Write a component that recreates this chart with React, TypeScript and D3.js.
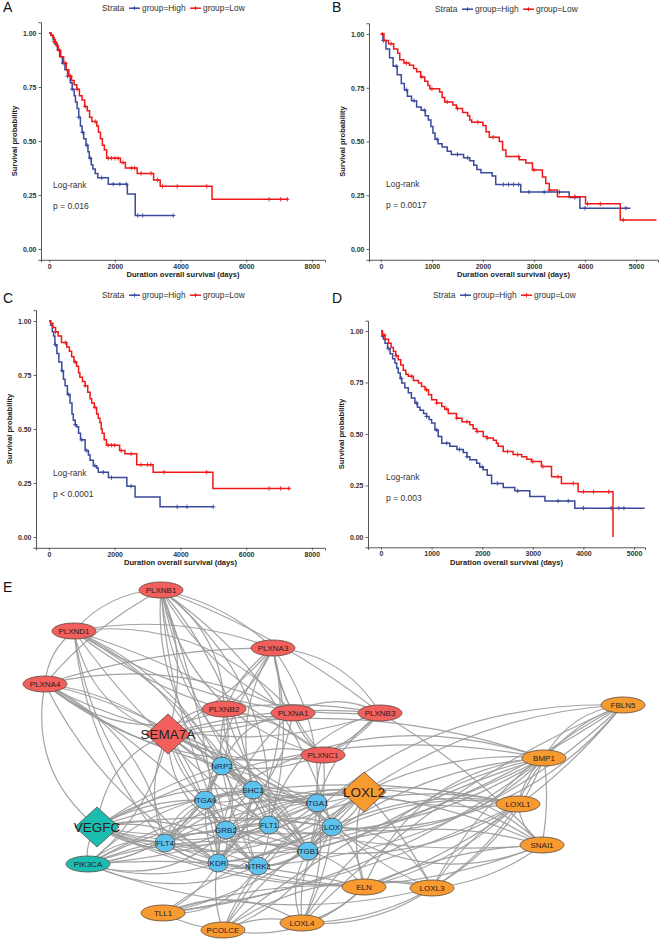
import React, { useEffect, useRef } from 'react';
import * as d3 from 'd3';

type Pt = [number, number];

// ---------- survival curves (time in days, survival probability) ----------
const aHigh: Pt[] = [[0,1],[60,0.99],[120,0.97],[180,0.95],[250,0.92],[320,0.89],[400,0.86],[480,0.83],[560,0.80],[640,0.77],[700,0.74],[760,0.71],[800,0.68],[850,0.65],[900,0.61],[950,0.57],[1000,0.54],[1050,0.51],[1120,0.48],[1180,0.45],[1220,0.42],[1280,0.39],[1330,0.37],[1400,0.35],[1480,0.33],[1800,0.30],[2380,0.255],[2620,0.155],[3780,0.155]];
const aLow: Pt[] = [[0,1],[50,0.99],[100,0.98],[150,0.96],[220,0.94],[280,0.92],[350,0.89],[440,0.86],[520,0.83],[600,0.80],[680,0.78],[760,0.76],[840,0.74],[920,0.71],[1000,0.69],[1080,0.66],[1160,0.64],[1230,0.61],[1300,0.59],[1450,0.57],[1500,0.54],[1560,0.51],[1620,0.48],[1680,0.46],[1750,0.42],[2170,0.40],[2320,0.375],[2680,0.35],[3180,0.32],[3380,0.29],[4960,0.23],[7280,0.23]];
const aHighCens = [200, 420, 560, 700, 900, 1020, 1150, 1250, 1600, 1950, 2150, 2350, 2700, 2850, 3780];
const aLowCens = [150, 300, 500, 650, 850, 1100, 1400, 1800, 1900, 2000, 2100, 2250, 2500, 2600, 2800, 3100, 3300, 3450, 3900, 4800, 6700, 7050, 7250];

const bHigh: Pt[] = [[0,1],[40,0.97],[100,0.93],[170,0.89],[240,0.85],[320,0.81],[400,0.77],[460,0.74],[520,0.71],[600,0.69],[700,0.66],[790,0.645],[870,0.62],[930,0.60],[980,0.57],[1020,0.54],[1060,0.51],[1120,0.49],[1200,0.475],[1300,0.455],[1380,0.44],[1620,0.425],[1740,0.41],[1820,0.39],[1880,0.37],[1960,0.355],[2180,0.34],[2250,0.30],[2740,0.265],[3690,0.24],[3900,0.19],[4890,0.19]];
const bLow: Pt[] = [[0,1],[60,0.97],[150,0.955],[250,0.93],[330,0.91],[370,0.88],[450,0.865],[560,0.855],[640,0.84],[700,0.825],[780,0.80],[860,0.78],[920,0.76],[960,0.745],[1150,0.73],[1200,0.705],[1250,0.684],[1410,0.67],[1480,0.653],[1600,0.635],[1700,0.62],[1740,0.60],[1780,0.59],[2000,0.575],[2060,0.545],[2125,0.52],[2320,0.50],[2385,0.46],[2450,0.43],[2710,0.415],[2840,0.40],[2970,0.367],[3165,0.335],[3230,0.305],[3300,0.274],[3460,0.243],[4010,0.21],[4690,0.135],[5400,0.135]];
const bHighCens = [50, 300, 500, 650, 850, 1100, 1500, 1700, 2400, 2500, 2600, 2700, 2900, 3200, 3500, 3800, 4000, 4800];
const bLowCens = [30, 200, 500, 800, 1000, 1300, 1500, 1900, 2200, 2700, 3000, 3300, 3800, 4050, 4300, 4750];

const cHigh: Pt[] = [[0,1],[50,0.98],[100,0.95],[140,0.93],[180,0.89],[240,0.85],[300,0.81],[390,0.77],[440,0.73],[490,0.70],[560,0.66],[640,0.62],[700,0.57],[740,0.54],[800,0.52],[840,0.51],[900,0.48],[960,0.45],[1100,0.40],[1200,0.38],[1250,0.355],[1350,0.33],[1450,0.32],[1500,0.30],[1810,0.275],[2370,0.235],[2620,0.185],[3380,0.14],[5000,0.14]];
const cLow: Pt[] = [[0,1],[50,0.99],[120,0.97],[200,0.95],[280,0.93],[380,0.90],[540,0.88],[620,0.86],[690,0.835],[760,0.81],[840,0.79],[900,0.76],[940,0.74],[1020,0.72],[1100,0.70],[1180,0.67],[1250,0.64],[1300,0.62],[1380,0.60],[1450,0.57],[1500,0.55],[1550,0.53],[1590,0.50],[1620,0.48],[1680,0.45],[1750,0.425],[2150,0.40],[2310,0.385],[2670,0.335],[3170,0.30],[4990,0.225],[7330,0.225]];
const cHighCens = [200, 400, 600, 800, 1000, 1150, 1400, 1650, 1900, 2500, 3900, 4200, 5000];
const cLowCens = [200, 500, 800, 1100, 1400, 1800, 1900, 2000, 2200, 2500, 2800, 3000, 3100, 3500, 4800, 6700, 7050, 7300];

const dHigh: Pt[] = [[0,1],[20,0.975],[50,0.96],[80,0.94],[130,0.915],[180,0.89],[230,0.865],[275,0.845],[310,0.82],[340,0.796],[380,0.77],[410,0.747],[470,0.725],[540,0.70],[600,0.675],[670,0.65],[720,0.63],[770,0.615],[840,0.60],[900,0.585],[950,0.57],[1000,0.553],[1065,0.52],[1130,0.488],[1200,0.455],[1360,0.44],[1500,0.425],[1625,0.41],[1700,0.39],[1755,0.375],[1890,0.358],[1950,0.34],[2020,0.326],[2100,0.30],[2185,0.26],[2415,0.24],[2645,0.224],[2940,0.196],[3240,0.175],[3830,0.14],[5210,0.14]];
const dLow: Pt[] = [[0,1],[30,0.98],[80,0.96],[150,0.94],[200,0.92],[245,0.90],[290,0.88],[340,0.86],[390,0.835],[440,0.81],[490,0.79],[540,0.78],[640,0.76],[740,0.747],[800,0.73],[870,0.715],[940,0.69],[1000,0.666],[1100,0.65],[1200,0.634],[1260,0.62],[1330,0.60],[1490,0.577],[1600,0.56],[1755,0.545],[1820,0.525],[1890,0.512],[2020,0.488],[2100,0.48],[2220,0.47],[2280,0.455],[2315,0.44],[2415,0.415],[2610,0.40],[2780,0.39],[2880,0.378],[2975,0.366],[3170,0.342],[3370,0.293],[3565,0.26],[3895,0.22],[4585,0]];
const dHighCens = [40, 150, 400, 700, 900, 1100, 1300, 1550, 1700, 2000, 2300, 2700, 3500, 3700, 4000, 4550, 4700, 4800];
const dLowCens = [60, 300, 600, 900, 1100, 1300, 1500, 1700, 1900, 2100, 2500, 2700, 3000, 3200, 3500, 3800, 4000, 4200, 4500];

const longTicks = [0, 2000, 4000, 6000, 8000];
const shortTicks = [0, 1000, 2000, 3000, 4000, 5000];
const probTicks = [0, 0.25, 0.5, 0.75, 1];
const pLabels = ['p = 0.016', 'p = 0.0017', 'p < 0.0001', 'p = 0.003'];
const groupLabels = ['group=High', 'group=Low'];

// ---------- network ----------
const nodeNames = ['PLXNB1','PLXND1','PLXNA3','PLXNA4','PLXNB2','PLXNA1','PLXNB3','PLXNC1','SEMA7A',
  'FBLN5','BMP1','LOXL2','LOXL1','SNAI1','ELN','LOXL3','TLL1','PCOLCE','LOXL4',
  'NRP2','SHC1','ITGA9','ITGA1','GRB2','FLT1','LOX','FLT4','ITGB1','KDR','NTRK1',
  'VEGFC','PIK3CA'];
const nodeGroups = ['plx','plx','plx','plx','plx','plx','plx','plx','plxHub',
  'ecm','ecm','ecmHub','ecm','ecm','ecm','ecm','ecm','ecm','ecm',
  'rec','rec','rec','rec','rec','rec','rec','rec','rec','rec','rec',
  'vegHub','veg'];
// layout position of each node inside the network area
const nodeX = [161, 74, 273, 45, 224, 293, 380, 323, 168, 623, 544, 364, 518, 542, 364, 432, 163, 223, 302, 222, 253, 205, 317, 226, 269, 332, 165, 308, 218, 258, 97, 88];
const nodeY = [15, 56, 73, 109, 134, 138, 138, 180, 159, 130, 183, 217, 229, 270, 312, 313, 338, 355, 348, 191, 215, 225, 228, 255, 250, 252, 268, 276, 288, 291, 252, 289];

const edges: [string, string][] = [
  ['PLXNB1','PLXND1'],['PLXNB1','PLXNA3'],['PLXNB1','PLXNA4'],['PLXNB1','PLXNB2'],['PLXNB1','PLXNA1'],['PLXNB1','PLXNB3'],['PLXNB1','PLXNC1'],['PLXNB1','SEMA7A'],['PLXNB1','NRP2'],['PLXNB1','SHC1'],['PLXNB1','GRB2'],['PLXNB1','FLT1'],['PLXNB1','ITGB1'],['PLXNB1','KDR'],['PLXNB1','ITGA1'],['PLXNB1','LOX'],
  ['PLXND1','PLXNA4'],['PLXND1','PLXNA3'],['PLXND1','PLXNB2'],['PLXND1','PLXNA1'],['PLXND1','PLXNB3'],['PLXND1','PLXNC1'],['PLXND1','SEMA7A'],['PLXND1','NRP2'],['PLXND1','KDR'],['PLXND1','FLT1'],['PLXND1','ITGB1'],['PLXND1','GRB2'],['PLXND1','FLT4'],
  ['PLXNA4','PLXNA3'],['PLXNA4','PLXNB2'],['PLXNA4','PLXNA1'],['PLXNA4','PLXNB3'],['PLXNA4','SEMA7A'],['PLXNA4','NRP2'],['PLXNA4','FLT4'],['PLXNA4','KDR'],['PLXNA4','GRB2'],['PLXNA4','VEGFC'],['PLXNA4','ITGB1'],['PLXNA4','PLXNC1'],
  ['PLXNA3','PLXNB2'],['PLXNA3','PLXNA1'],['PLXNA3','PLXNB3'],['PLXNA3','PLXNC1'],['PLXNA3','SEMA7A'],['PLXNA3','NRP2'],['PLXNA3','ITGA1'],['PLXNA3','SHC1'],['PLXNA3','FLT1'],['PLXNA3','ITGA9'],['PLXNA3','KDR'],
  ['PLXNB2','PLXNA1'],['PLXNB2','PLXNB3'],['PLXNB2','SEMA7A'],['PLXNB2','NRP2'],['PLXNB2','SHC1'],['PLXNB2','PLXNC1'],['PLXNB2','ITGB1'],
  ['PLXNA1','PLXNB3'],['PLXNA1','PLXNC1'],['PLXNA1','SEMA7A'],['PLXNA1','NRP2'],['PLXNA1','GRB2'],['PLXNA1','KDR'],
  ['PLXNB3','PLXNC1'],['PLXNB3','SEMA7A'],['PLXNB3','NRP2'],['PLXNB3','ITGA1'],['PLXNB3','SNAI1'],['PLXNB3','FLT1'],
  ['PLXNC1','SEMA7A'],['PLXNC1','NRP2'],['PLXNC1','ITGB1'],['PLXNC1','ITGA1'],
  ['SEMA7A','NRP2'],['SEMA7A','ITGA9'],['SEMA7A','SHC1'],['SEMA7A','GRB2'],['SEMA7A','FLT1'],['SEMA7A','FLT4'],['SEMA7A','KDR'],['SEMA7A','NTRK1'],['SEMA7A','ITGB1'],['SEMA7A','ITGA1'],['SEMA7A','LOX'],['SEMA7A','VEGFC'],['SEMA7A','PIK3CA'],['SEMA7A','LOXL2'],['SEMA7A','BMP1'],
  ['VEGFC','FLT4'],['VEGFC','KDR'],['VEGFC','FLT1'],['VEGFC','NRP2'],['VEGFC','GRB2'],['VEGFC','SHC1'],['VEGFC','PIK3CA'],['VEGFC','ITGA9'],['VEGFC','ITGB1'],['VEGFC','NTRK1'],['VEGFC','ITGA1'],['VEGFC','LOX'],['VEGFC','LOXL2'],['VEGFC','BMP1'],['VEGFC','SNAI1'],['VEGFC','LOXL1'],['VEGFC','ELN'],
  ['PIK3CA','FLT4'],['PIK3CA','KDR'],['PIK3CA','FLT1'],['PIK3CA','GRB2'],['PIK3CA','SHC1'],['PIK3CA','NTRK1'],['PIK3CA','ITGB1'],['PIK3CA','ITGA1'],['PIK3CA','SNAI1'],['PIK3CA','LOXL3'],['PIK3CA','ELN'],['PIK3CA','NRP2'],['PIK3CA','LOX'],['PIK3CA','ITGA9'],
  ['NRP2','SHC1'],['NRP2','ITGA9'],['NRP2','GRB2'],['NRP2','FLT1'],['NRP2','FLT4'],['NRP2','KDR'],['NRP2','ITGB1'],['NRP2','ITGA1'],['NRP2','LOX'],['NRP2','NTRK1'],
  ['SHC1','ITGA9'],['SHC1','GRB2'],['SHC1','FLT1'],['SHC1','FLT4'],['SHC1','KDR'],['SHC1','NTRK1'],['SHC1','ITGB1'],['SHC1','ITGA1'],['SHC1','LOX'],
  ['ITGA9','GRB2'],['ITGA9','FLT1'],['ITGA9','FLT4'],['ITGA9','KDR'],['ITGA9','ITGB1'],['ITGA9','ITGA1'],['ITGA9','NTRK1'],
  ['ITGA1','GRB2'],['ITGA1','FLT1'],['ITGA1','ITGB1'],['ITGA1','KDR'],['ITGA1','LOX'],['ITGA1','FLT4'],
  ['GRB2','FLT1'],['GRB2','FLT4'],['GRB2','KDR'],['GRB2','NTRK1'],['GRB2','ITGB1'],['GRB2','LOX'],
  ['FLT1','FLT4'],['FLT1','KDR'],['FLT1','NTRK1'],['FLT1','ITGB1'],['FLT1','LOX'],
  ['FLT4','KDR'],['FLT4','NTRK1'],['FLT4','ITGB1'],['KDR','NTRK1'],['KDR','ITGB1'],['NTRK1','ITGB1'],['LOX','ITGB1'],
  ['LOXL2','LOX'],['LOXL2','ITGB1'],['LOXL2','ITGA1'],['LOXL2','FLT1'],['LOXL2','KDR'],['LOXL2','GRB2'],['LOXL2','BMP1'],['LOXL2','LOXL1'],['LOXL2','SNAI1'],['LOXL2','ELN'],['LOXL2','LOXL3'],['LOXL2','LOXL4'],['LOXL2','TLL1'],['LOXL2','PCOLCE'],['LOXL2','FBLN5'],['LOXL2','FLT4'],
  ['BMP1','FBLN5'],['BMP1','LOXL1'],['BMP1','SNAI1'],['BMP1','ELN'],['BMP1','LOXL3'],['BMP1','LOXL4'],['BMP1','TLL1'],['BMP1','PCOLCE'],['BMP1','LOX'],['BMP1','ITGB1'],['BMP1','KDR'],['BMP1','FLT4'],['BMP1','GRB2'],
  ['FBLN5','LOXL1'],['FBLN5','ELN'],['FBLN5','LOXL4'],['FBLN5','LOX'],['FBLN5','LOXL3'],['FBLN5','ITGB1'],['FBLN5','PCOLCE'],['FBLN5','NTRK1'],
  ['LOXL1','SNAI1'],['LOXL1','ELN'],['LOXL1','LOXL3'],['LOXL1','LOXL4'],['LOXL1','LOX'],['LOXL1','TLL1'],['LOXL1','PCOLCE'],['LOXL1','ITGB1'],['LOXL1','KDR'],
  ['SNAI1','LOXL3'],['SNAI1','ELN'],['SNAI1','LOX'],['SNAI1','ITGB1'],['SNAI1','FLT1'],['SNAI1','GRB2'],
  ['ELN','LOXL3'],['ELN','LOX'],['ELN','LOXL4'],['ELN','TLL1'],['ELN','PCOLCE'],['ELN','ITGB1'],['ELN','FLT4'],
  ['LOXL3','LOX'],['LOXL3','LOXL4'],['LOXL3','PCOLCE'],['LOXL3','ITGA1'],
  ['TLL1','PCOLCE'],['TLL1','LOXL4'],['TLL1','KDR'],['TLL1','LOX'],['TLL1','NTRK1'],
  ['PCOLCE','LOXL4'],['PCOLCE','LOX'],['PCOLCE','KDR'],['LOXL4','LOX'],['LOXL4','ITGB1'],['LOXL4','ITGA1'],
];

const FONT = '"Liberation Sans", Arial, Helvetica, sans-serif';
const HIGH = '#3A4A9C';
const LOW = '#F01818';

const panels = [
  { letter: 'A', high: aHigh, low: aLow, hc: aHighCens, lc: aLowCens, ticks: longTicks, xd: [-250, 8400], xr: [41, 325], y0: 249, y1: 33, p: pLabels[0], lx: 53, ly: 188, legX: 102, legY: 11, lettX: 3, lettY: 12, titleY: 277 },
  { letter: 'B', high: bHigh, low: bLow, hc: bHighCens, lc: bLowCens, ticks: shortTicks, xd: [-233, 5430], xr: [369, 658], y0: 249, y1: 34, p: pLabels[1], lx: 386, ly: 187, legX: 435, legY: 12, lettX: 332, lettY: 12, titleY: 277 },
  { letter: 'C', high: cHigh, low: cLow, hc: cHighCens, lc: cLowCens, ticks: longTicks, xd: [-395, 8400], xr: [36, 325], y0: 537, y1: 321, p: pLabels[2], lx: 53, ly: 476, legX: 102, legY: 298, lettX: 3, lettY: 303, titleY: 565 },
  { letter: 'D', high: dHigh, low: dLow, hc: dHighCens, lc: dLowCens, ticks: shortTicks, xd: [-257, 5217], xr: [368, 645], y0: 537, y1: 331, p: pLabels[3], lx: 386, ly: 480, legX: 433, legY: 298, lettX: 332, lettY: 303, titleY: 565 },
];

const fills: Record<string, string> = {
  plx: '#F25F5C', plxHub: '#F25F5C', ecm: '#F79A30', ecmHub: '#F79A30', rec: '#5CC3F0', veg: '#1CBDB1', vegHub: '#1CBDB1',
};

function survAt(pts: Pt[], t: number) {
  let s = 1;
  for (const [tt, ss] of pts) if (tt <= t) s = ss;
  return s;
}

const App = () => {
  const svgRef = useRef<SVGSVGElement>(null);

  useEffect(() => {
    const svg = d3.select(svgRef.current);
    svg.selectAll('*').remove();

    // ---------- survival panels ----------
    panels.forEach(pn => {
      const g = svg.append('g');
      const unit = pn.y0 - pn.y1;
      const x = d3.scaleLinear().domain(pn.xd).range(pn.xr);
      const y = d3.scaleLinear().domain([-0.05, 1.05]).range([pn.y0 + 0.05 * unit, pn.y1 - 0.05 * unit]);
      const yBottom = y.range()[0];

      const line = d3.line<Pt>().x(d => x(d[0])).y(d => y(d[1])).curve(d3.curveStepAfter);

      [[pn.high, pn.hc, HIGH], [pn.low, pn.lc, LOW]].forEach(([pts, cens, col]: any) => {
        g.append('path').datum(pts).attr('fill', 'none').attr('stroke', col)
          .attr('stroke-width', 1.5).attr('d', line);
        g.selectAll(null).data(cens as number[]).enter().append('path')
          .attr('transform', d => `translate(${x(d)},${y(survAt(pts, d))})`)
          .attr('d', 'M-2.2,0H2.2M0,-2.2V2.2').attr('stroke', col).attr('stroke-width', 0.9);
      });

      const xAxis = g.append('g').attr('transform', `translate(0,${yBottom})`)
        .call(d3.axisBottom(x).tickValues(pn.ticks).tickSize(2.5).tickPadding(1.5).tickFormat(d3.format('d')) as any);
      const yAxis = g.append('g').attr('transform', `translate(${pn.xr[0]},0)`)
        .call(d3.axisLeft(y).tickValues(probTicks).tickSize(2.5).tickPadding(2).tickFormat(d3.format('.2f')) as any);
      [xAxis, yAxis].forEach(a => {
        a.select('.domain').attr('stroke', '#444').attr('stroke-width', 0.9);
        a.selectAll('.tick line').attr('stroke', '#444').attr('stroke-width', 0.8);
        a.selectAll('.tick text').attr('fill', '#333').style('font-family', FONT)
          .style('font-size', '7px').style('font-weight', 'bold');
      });

      // axis titles
      g.append('text').attr('x', (pn.xr[0] + pn.xr[1]) / 2).attr('y', pn.titleY)
        .attr('text-anchor', 'middle').style('font-family', FONT).style('font-size', '7.6px')
        .style('font-weight', 'bold').attr('fill', '#222').text('Duration overall survival (days)');
      g.append('text').attr('transform', `translate(${pn.xr[0] - 24},${(pn.y0 + pn.y1) / 2}) rotate(-90)`)
        .attr('text-anchor', 'middle').style('font-family', FONT).style('font-size', '7.6px')
        .style('font-weight', 'bold').attr('fill', '#222').text('Survival probability');

      // log-rank annotation
      g.append('text').attr('x', pn.lx).attr('y', pn.ly).style('font-family', FONT).style('font-size', '8.5px')
        .attr('fill', '#333').text('Log-rank');
      g.append('text').attr('x', pn.lx).attr('y', pn.ly + 21).style('font-family', FONT).style('font-size', '8.5px')
        .attr('fill', '#333').text(pn.p);

      // panel letter
      g.append('text').attr('x', pn.lettX).attr('y', pn.lettY).style('font-family', FONT)
        .style('font-size', '14px').attr('fill', '#111').text(pn.letter);

      // legend
      const leg = g.append('g').attr('transform', `translate(${pn.legX},${pn.legY})`)
        .style('font-family', FONT).style('font-size', '8.4px').attr('fill', '#333');
      leg.append('text').attr('x', 0).attr('y', 0).text('Strata');
      const keyX = [27, 88];
      groupLabels.forEach((lab, i) => {
        const col = i === 0 ? HIGH : LOW;
        const kx = keyX[i];
        leg.append('line').attr('x1', kx).attr('x2', kx + 11).attr('y1', -2.8).attr('y2', -2.8)
          .attr('stroke', col).attr('stroke-width', 1.5);
        leg.append('path').attr('transform', `translate(${kx + 5.5},-2.8)`).attr('d', 'M-2,0H2M0,-2V2')
          .attr('stroke', col).attr('stroke-width', 0.9);
        leg.append('text').attr('x', kx + 13).attr('y', 0).text(lab);
      });
    });

    // ---------- network ----------
    const net = svg.append('g');
    const nx = d3.scaleLinear().domain([0, 660]).range([0, 660]);
    const ny = d3.scaleLinear().domain([0, 367]).range([575, 942]);
    const pos = new Map(nodeNames.map((n, i) => [n, [nx(nodeX[i]), ny(nodeY[i])]]));

    net.append('text').attr('x', 3).attr('y', 592).style('font-family', FONT)
      .style('font-size', '14px').attr('fill', '#111').text('E');

    const bends = [0.22, -0.14, 0.1, -0.26, 0.16, -0.08, 0.3, -0.18];
    net.append('g').selectAll('path').data(edges).enter().append('path')
      .attr('d', (e, i) => {
        const [x1, y1] = pos.get(e[0])!;
        const [x2, y2] = pos.get(e[1])!;
        const dx = x2 - x1, dy = y2 - y1;
        const b = bends[i % bends.length];
        const cx = (x1 + x2) / 2 - dy * b;
        const cy = (y1 + y2) / 2 + dx * b;
        const p = d3.path();
        p.moveTo(x1, y1);
        p.quadraticCurveTo(cx, cy, x2, y2);
        return p.toString();
      })
      .attr('fill', 'none').attr('stroke', '#999999').attr('stroke-width', 1.2).attr('stroke-opacity', 0.9);

    const ng = net.append('g').selectAll('g').data(nodeNames).enter().append('g')
      .attr('transform', d => `translate(${pos.get(d)![0]},${pos.get(d)![1]})`);

    ng.each(function (d, i) {
      const el = d3.select(this);
      const grp = nodeGroups[i];
      const hub = grp.endsWith('Hub');
      if (hub) {
        el.append('path').attr('d', 'M0,-20L22,0L0,20L-22,0Z')
          .attr('fill', fills[grp]).attr('stroke', '#5a4a40').attr('stroke-width', 0.8);
        el.append('text').attr('y', 4.5).attr('text-anchor', 'middle').style('font-family', FONT)
          .style('font-size', '13.5px').attr('fill', '#2a2020').text(d);
      } else {
        const round = grp === 'rec';
        el.append('ellipse').attr('rx', round ? 10 : 22).attr('ry', round ? 9 : 8)
          .attr('fill', fills[grp]).attr('stroke', '#5a4a40').attr('stroke-width', 0.8);
        el.append('text').attr('y', 2.8).attr('text-anchor', 'middle').style('font-family', FONT)
          .style('font-size', '8px').attr('fill', '#2a2020').text(d);
      }
    });
  }, []);

  return (
    <div style={{ position: 'absolute', left: 0, top: 0, background: '#fff' }}>
      <svg ref={svgRef} width={660} height={942} style={{ display: 'block' }}></svg>
    </div>
  );
};

export default App;
